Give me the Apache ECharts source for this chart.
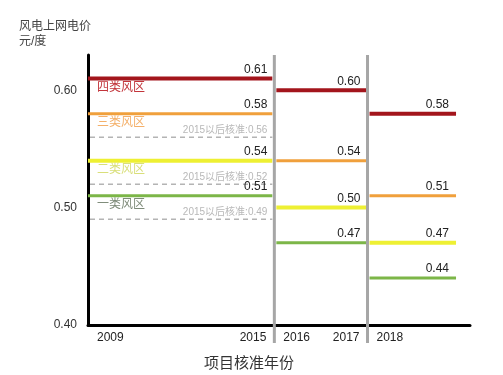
<!DOCTYPE html>
<html>
<head>
<meta charset="utf-8">
<script src="https://cdn.jsdelivr.net/npm/echarts@6/dist/echarts.min.js"></script>
<style>html,body{margin:0;padding:0;background:#fff}#c{width:503px;height:375px}</style>
</head>
<body>
<div id="c"></div>
<script>
// ---- data ----
const periods = ['2009-2015', '2016-2017', '2018'];
const periodStart = [0, 4, 6];
const periodEnd = [4, 6, 7.9];
const zones = ['四类风区', '三类风区', '二类风区', '一类风区'];
const price2009_2015 = [0.61, 0.58, 0.54, 0.51];
const price2016_2017 = [0.60, 0.54, 0.50, 0.47];
const price2018 = [0.58, 0.51, 0.47, 0.44];
const price2015Adjusted = [null, 0.56, 0.52, 0.49];
const adjustedLabel = '2015以后核准:';
const yearLabels = ['2009', '2015', '2016', '2017', '2018'];
const yearSlots = [0, 4, 4, 6, 6];
const dividerSlots = [4, 6];
const yTicks = [0.40, 0.50, 0.60];
const yTitle = ['风电上网电价', '元/度'];
const xTitle = '项目核准年份';

// ---- style ----
const FONT = '"Liberation Sans", "Noto Sans CJK SC", sans-serif';
const zoneColors = ['#a3151c', '#f0a03c', '#eef033', '#7cb648'];
const zoneWidths = [4, 3, 4, 3];
const zoneLabelColors = ['#c2343a', '#f4b06a', '#d9df7a', '#7d8a78'];
const Y_MIN = 0.40, Y_MAX = 0.63;

const priceTable = [price2009_2015, price2016_2017, price2018];
const segData = [];
priceTable.forEach((arr, p) => arr.forEach((v, z) => segData.push([periodStart[p], periodEnd[p], v, z, p])));
const dashData = [];
price2015Adjusted.forEach((v, z) => { if (v != null) dashData.push([periodStart[0], periodEnd[0], v, z]); });

const chart = echarts.init(document.getElementById('c'), null, {renderer: 'canvas'});
chart.setOption({
  backgroundColor: '#ffffff',
  animation: false,
  textStyle: {fontFamily: FONT},
  grid: {left: 88, right: 33, top: 55, bottom: 50, containLabel: false, outerBoundsMode: 'none'},
  xAxis: {
    type: 'value', min: 0, max: 8.2,
    axisLine: {show: true, lineStyle: {color: '#000', width: 3}},
    axisTick: {show: false}, axisLabel: {show: false}, splitLine: {show: false}
  },
  yAxis: {
    type: 'value', min: Y_MIN, max: Y_MAX, interval: 0.1,
    axisLine: {show: true, lineStyle: {color: '#000', width: 3}},
    axisTick: {show: false}, splitLine: {show: false},
    axisLabel: {
      color: '#333', fontSize: 12, margin: 11, fontFamily: FONT,
      formatter: v => yTicks.some(t => Math.abs(t - v) < 1e-6) ? v.toFixed(2) : ''
    }
  },
  graphic: [
    {type: 'text', left: 19, top: 19, style: {text: yTitle.join('\n'), fontSize: 12, lineHeight: 15, fill: '#444', fontFamily: FONT}},
    {type: 'text', left: 204, top: 356, style: {text: xTitle, fontSize: 15, fill: '#333', fontFamily: FONT}}
  ],
  series: [
    {
      type: 'custom', name: 'adjusted', clip: false, z: 2,
      data: dashData,
      renderItem: (params, api) => {
        const v = api.value(2);
        const a = api.coord([api.value(0), v]);
        const b = api.coord([api.value(1), v]);
        return {type: 'group', children: [
          {type: 'line', shape: {x1: a[0] + 2, y1: a[1], x2: b[0] - 2, y2: b[1]},
           style: {stroke: '#b4b4b4', lineWidth: 1.5, lineDash: [5, 4]}},
          {type: 'text', style: {text: adjustedLabel + v.toFixed(2), x: b[0] - 7, y: b[1] - 7,
            align: 'right', verticalAlign: 'middle', fontSize: 10, fill: '#b8b8b8', fontFamily: FONT}}
        ]};
      }
    },
    {
      type: 'custom', name: 'prices', clip: false, z: 3,
      data: segData,
      renderItem: (params, api) => {
        const v = api.value(2), zi = api.value(3), p = api.value(4);
        const a = api.coord([api.value(0), v]);
        const b = api.coord([api.value(1), v]);
        const l = p === 0 ? 0 : 2;
        const r = p === 0 ? 2 : 0;
        const children = [
          {type: 'line', shape: {x1: a[0] + l, y1: a[1], x2: b[0] - r, y2: b[1]},
           style: {stroke: zoneColors[zi], lineWidth: zoneWidths[zi]}},
          {type: 'text', style: {text: v.toFixed(2), x: b[0] - 7, y: b[1] - 9,
            align: 'right', verticalAlign: 'middle', fontSize: 12, fill: '#222', fontFamily: FONT}}
        ];
        if (p === 0) {
          children.push({type: 'text', style: {text: zones[zi], x: a[0] + 9, y: a[1] + 3,
            align: 'left', verticalAlign: 'top', fontSize: 12, fill: zoneLabelColors[zi], fontFamily: FONT}});
        }
        return {type: 'group', children};
      }
    },
    {
      type: 'custom', name: 'dividers', clip: false, z: 4,
      data: dividerSlots.map(s => [s]),
      renderItem: (params, api) => {
        const t = api.coord([api.value(0), Y_MAX]);
        const b = api.coord([api.value(0), Y_MIN]);
        return {type: 'line', shape: {x1: t[0], y1: t[1], x2: b[0], y2: b[1] + 18},
          style: {stroke: '#a6a6a6', lineWidth: 3}};
      }
    },
    {
      type: 'custom', name: 'years', clip: false, z: 4,
      data: yearSlots.map((s, i) => [s, i]),
      renderItem: (params, api) => {
        const i = api.value(1);
        const c = api.coord([api.value(0), Y_MIN]);
        const left = i % 2 === 0;
        return {type: 'text', style: {text: yearLabels[i], x: c[0] + (left ? 9 : -8), y: c[1] + 13,
          align: left ? 'left' : 'right', verticalAlign: 'middle', fontSize: 12, fill: '#222', fontFamily: FONT}};
      }
    }
  ]
});
</script>
</body>
</html>
